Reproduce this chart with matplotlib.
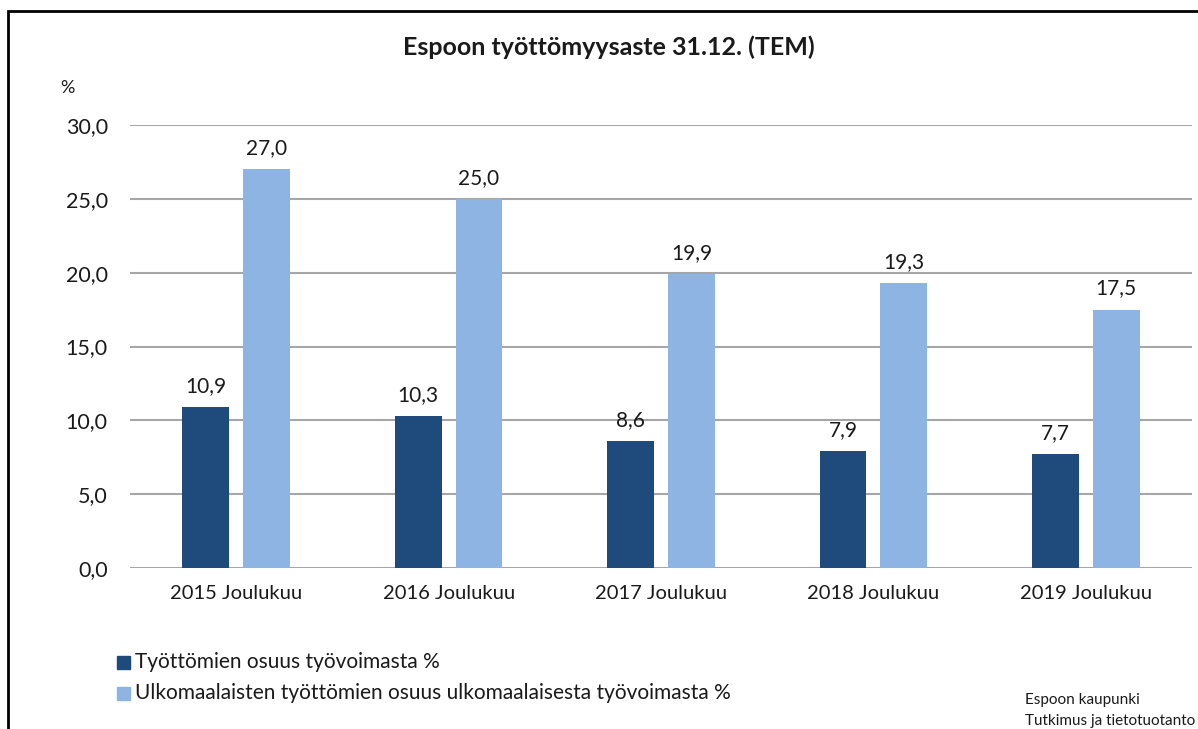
import matplotlib.pyplot as plt
import numpy as np
from matplotlib.patches import Rectangle

categories = ["2015 Joulukuu", "2016 Joulukuu", "2017 Joulukuu", "2018 Joulukuu", "2019 Joulukuu"]
tyottomat = [10.9, 10.3, 8.6, 7.9, 7.7]
ulkomaalaiset = [27.0, 25.0, 19.9, 19.3, 17.5]
series_names = ["Työttömien osuus työvoimasta %",
                "Ulkomaalaisten työttömien osuus ulkomaalaisesta työvoimasta %"]
yticks = [0, 5, 10, 15, 20, 25, 30]

plt.rcParams['font.family'] = ['Lato', 'DejaVu Sans']

dark = '#1f4a7c'
light = '#8eb4e3'

fig = plt.figure(figsize=(11.98, 7.29), dpi=100)
ax = fig.add_axes([130/1198, 1 - 568/729, (1192-130)/1198, (568-125)/729])

x = np.arange(len(categories))
w = 0.22
off = 0.143
b1 = ax.bar(x - off, tyottomat, w, color=dark, zorder=3)
b2 = ax.bar(x + off, ulkomaalaiset, w, color=light, zorder=3)

for bars, vals in ((b1, tyottomat), (b2, ulkomaalaiset)):
    for b, v in zip(bars, vals):
        ax.annotate(f"{v:.1f}".replace('.', ','), (b.get_x() + b.get_width()/2, v),
                    xytext=(0, 8), textcoords='offset points',
                    ha='center', va='bottom', fontsize=15, color='#1a1a1a')

ax.set_xlim(-0.5, len(categories) - 0.5)
ax.set_ylim(0, 30)
ax.set_yticks(yticks)
ax.set_yticklabels([f"{t:.1f}".replace('.', ',') for t in yticks], fontsize=15.5, color='#1a1a1a')
ax.set_xticks(x)
ax.set_xticklabels(categories, fontsize=14.5, color='#1a1a1a')
ax.tick_params(axis='both', length=0)
ax.tick_params(axis='y', pad=16)
ax.tick_params(axis='x', pad=12)
ax.yaxis.grid(True, color='#a6a6a6', linewidth=1.5, zorder=0)
for s in ax.spines.values():
    s.set_visible(False)

fig.text(609/1198, 1 - 47/729, "Espoon työttömyysaste 31.12. (TEM)", ha='center', va='center',
         fontsize=18, fontweight='bold', color='#1a1a1a')
fig.text(60/1198, 1 - 88/729, "%", ha='left', va='center', fontsize=13, color='#1a1a1a')

# legend
for i, (name, col) in enumerate(zip(series_names, [dark, light])):
    yc = 1 - (662 + i*31)/729
    fig.patches.append(Rectangle((117/1198, yc - 7/729), 13/1198, 13/729,
                                 transform=fig.transFigure, color=col))
    fig.text(135/1198, yc, name, ha='left', va='center', fontsize=15, color='#1a1a1a')

fig.text(1025/1198, 1 - 700/729, "Espoon kaupunki", ha='left', va='center', fontsize=11, color='#1a1a1a')
fig.text(1025/1198, 1 - 721/729, "Tutkimus ja tietotuotanto", ha='left', va='center', fontsize=11, color='#1a1a1a')

# frame
fig.patches.append(Rectangle((8/1198, -0.05), 1.2, 1 - 11/729 + 0.05, transform=fig.transFigure,
                             fill=False, edgecolor='black', linewidth=2))

fig.savefig('out.png', dpi=100)
